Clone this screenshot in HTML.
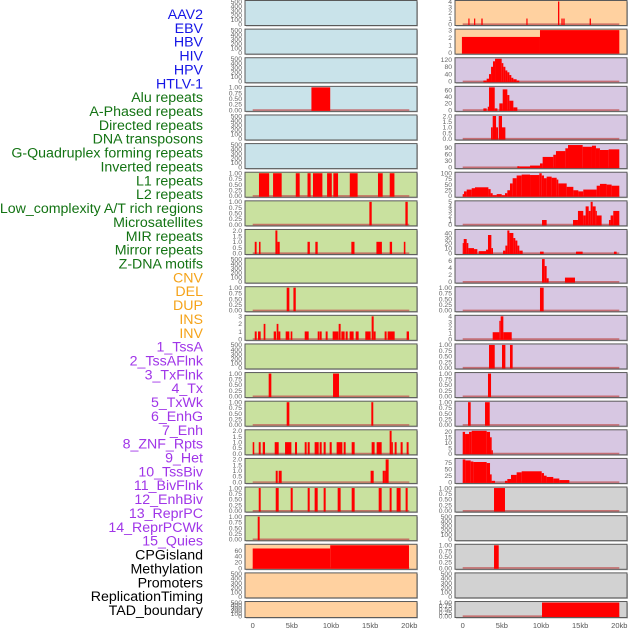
<!DOCTYPE html>
<html><head><meta charset="utf-8">
<style>
body{margin:0;background:#fff;width:630px;height:630px;overflow:hidden;font-family:"Liberation Sans",sans-serif}
svg{display:block}
</style></head>
<body>
<svg id="chart" width="630" height="630"></svg>
<script>
// ---- data ----
const labels = ["AAV2","EBV","HBV","HIV","HPV","HTLV-1","Alu repeats","A-Phased repeats","Directed repeats","DNA transposons","G-Quadruplex forming repeats","Inverted repeats","L1 repeats","L2 repeats","Low_complexity A/T rich regions","Microsatellites","MIR repeats","Mirror repeats","Z-DNA motifs","CNV","DEL","DUP","INS","INV","1_TssA","2_TssAFlnk","3_TxFlnk","4_Tx","5_TxWk","6_EnhG","7_Enh","8_ZNF_Rpts","9_Het","10_TssBiv","11_BivFlnk","12_EnhBiv","13_ReprPC","14_ReprPCWk","15_Quies","CPGisland","Methylation","Promoters","ReplicationTiming","TAD_boundary"];
const labelGroups = ["v","v","v","v","v","v","r","r","r","r","r","r","r","r","r","r","r","r","r","c","c","c","c","c","s","s","s","s","s","s","s","s","s","s","s","s","s","s","s","o","o","o","o","o"];
const xTicks = [0,5,10,15,20];
const xTickLabels = ["0","5kb","10kb","15kb","20kb"];
const ticksEmpty = [0,100,200,300,400,500];
const ticksBin = [0,0.25,0.5,0.75,1];
const ticks2 = [0,0.5,1,1.5,2];

const segL4 = [[7.5,9.9,1]];
const segL7 = [[0.8,2.1,1],[2.6,3.7,1],[5.5,6.0,1],[7.0,7.4,1],[7.7,8.9,1],[9.5,10.1,1],[10.3,10.9,1],[12.4,13.4,1],[16.0,16.6,1],[17.5,18.1,1]];
const segL8 = [[14.9,15.2,1],[19.5,19.8,1]];
const segL9 = [[0.26,0.5,1],[0.8,1.0,1],[2.9,3.15,2],[3.15,3.45,1],[7.0,7.3,1],[8.0,8.3,1],[12.6,13.0,1],[15.8,16.5,1],[17.5,17.8,1],[19.3,19.5,1]];
const segL11 = [[4.34,4.68,1],[5.2,5.5,1]];
const segL12 = [[0.26,0.51,1],[0.68,1.02,1],[1.4,1.62,2],[2.68,2.98,1],[3.06,3.28,2],[3.28,3.53,1],[4.21,4.68,1],[4.85,5.06,1],[6.64,7.15,1],[8.3,8.51,1],[8.55,8.81,1],[9.32,9.57,1],[10.21,10.94,1],[10.98,11.23,2],[11.32,11.74,1],[11.87,12.13,1],[12.38,12.89,1],[13.15,13.53,1],[14.38,15.06,1],[15.19,15.45,3],[15.45,15.7,1],[16.85,17.1,1],[17.23,18.13,1],[19.66,19.96,1]];
const segL14 = [[2.04,2.38,1],[10.26,11.02,1]];
const segL15 = [[4.34,4.68,1],[15.15,15.4,1]];
const segL16 = [[0,0.2,1],[0.77,1.02,1],[1.28,1.57,1],[2.81,3.32,1],[4.13,4.94,1],[5.4,5.66,1],[6.64,6.89,1],[7.02,7.28,1],[7.91,8.43,1],[8.55,8.81,1],[9.06,9.32,1],[9.83,10.09,1],[10.72,11.45,1],[11.62,11.87,1],[12.64,13.02,1],[15.19,15.57,1],[15.83,16.47,1],[17.49,17.74,2],[17.74,17.9,1],[18.13,18.38,1],[18.89,19.15,1],[19.66,19.91,1]];
const segL17 = [[2.94,3.19,1],[3.32,3.7,1],[15.06,15.45,1],[16.6,16.85,1],[16.85,16.98,1],[16.98,17.36,2]];
const segL18 = [[0.77,1.02,1],[2.94,3.32,1],[4.85,5.11,1],[7.02,7.28,1],[7.91,8.3,1],[9.06,9.32,1],[10.85,11.23,1],[12.64,13.02,1],[16.09,16.47,1],[17.49,17.74,1],[18.38,18.89,1],[19.53,19.79,1]];
const segL19 = [[0.64,0.89,1]];
const segL20 = [[0,9.9,67],[9.9,19.96,78]];

const segR1 = [[0.72,0.85,1],[1.45,1.57,1],[2.38,2.55,1],[8.13,8.26,1],[12.17,12.34,4],[12.6,12.77,1],[12.85,13.02,1],[16.21,16.38,1]];
const segR2 = [[-0.1,9.87,2.1],[9.87,20,3]];
const segR3 = [[2.64,3.06,5],[3.06,3.36,15],[3.36,3.62,40],[3.62,3.87,80],[3.87,4.13,110],[4.13,4.98,124],[4.98,5.19,100],[5.19,5.45,80],[5.45,5.7,60],[5.7,5.96,50],[5.96,6.21,35],[6.21,6.47,20],[6.47,6.89,12],[6.89,7.23,5]];
const segR4 = [[2.64,3.06,5],[3.2,3.36,10],[3.36,4.09,68],[4.09,4.43,5],[4.68,5.11,20],[5.11,5.7,62],[5.7,5.96,45],[5.96,6.47,28],[6.47,6.98,8]];
const segR5 = [[3.62,3.83,1],[3.83,4.26,2],[4.26,4.51,1],[4.6,5.02,2],[5.02,5.45,1]];
const segR6 = [[6.98,7.23,5],[7.23,8.6,4],[8.6,9.87,8],[9.87,10.21,18],[10.21,11.57,48],[11.57,11.91,58],[11.91,13.11,75],[13.11,13.45,88],[13.45,15.32,103],[15.32,16.51,95],[16.51,17.02,100],[17.02,17.53,88],[17.53,18.64,80],[18.64,20,83]];
const segR7 = [[0,0.17,8],[0.17,0.51,20],[0.51,1.15,28],[1.15,1.57,34],[1.57,3.28,38],[3.28,3.57,30],[3.57,3.83,12],[3.83,4.34,3],[4.34,4.98,8],[4.98,5.4,3],[5.4,5.7,12],[5.7,6.04,25],[6.04,6.38,55],[6.38,6.89,78],[6.89,7.53,90],[7.53,8.6,94],[8.6,9.79,92],[9.79,10.09,100],[10.09,10.38,90],[10.38,10.72,78],[10.72,11.36,85],[11.36,12,80],[12,12.21,72],[12.21,13.28,55],[13.28,14.13,40],[14.13,14.77,25],[14.77,15.4,20],[15.4,17.11,28],[17.11,17.53,45],[17.53,18.38,53],[18.38,19.02,50],[19.02,20,45]];
const segR8 = [[10.13,10.72,1],[14.09,14.72,1],[14.72,15.4,3],[15.4,15.7,2],[15.7,16.09,4],[16.09,16.34,3],[16.34,16.6,5],[16.6,16.98,4],[16.98,17.11,3],[17.11,17.74,2],[18.68,18.89,1],[18.89,19.23,2],[19.23,20,3]];
const segR9 = [[0,0.13,20],[0.13,0.51,28],[0.51,0.72,20],[0.72,1.45,10],[1.45,1.87,8],[2.04,2.98,4],[2.98,3.23,7],[3.23,3.66,36],[3.66,3.87,10],[5.15,5.45,5],[5.45,5.7,15],[5.7,5.96,45],[5.96,6.47,40],[6.47,6.72,30],[6.72,6.98,25],[6.98,7.23,15],[7.23,7.66,5],[9.87,10.34,3],[14.47,15.32,3],[19.32,19.66,3]];
const segR10 = [[10.13,10.47,6.5],[10.47,10.72,4.5],[10.72,10.98,1],[13.06,14.34,1.2]];
const segR11 = [[9.87,10.34,1]];
const segR12 = [[3.83,4.68,1.2],[4.68,4.85,3.2],[4.85,5.19,4],[5.19,6.26,1.2]];
const segR13 = [[3.36,4.09,1],[5.02,5.45,1],[6.04,6.38,1]];
const segR14 = [[3.23,3.62,1]];
const segR15 = [[0.68,1.02,1],[2.85,3.45,1]];
const segR16 = [[0,0.3,20],[0.3,0.81,18],[0.81,1.15,20],[1.15,3.06,21],[3.06,3.49,20],[3.49,3.7,15],[3.7,3.83,3]];
const segR17 = [[0,0.34,88],[0.34,1.02,84],[1.02,1.36,80],[1.36,3.06,78],[3.06,3.49,74],[3.49,3.7,30],[3.7,4.13,5],[5.4,5.7,5],[5.7,6.17,12],[6.17,6.89,28],[6.89,7.53,38],[7.53,10.09,42],[10.09,10.38,35],[10.38,10.72,25],[10.72,11.57,20],[11.57,12.34,14],[12.34,13.62,8]];
const segR18 = [[4.0,5.4,1]];
const segR20 = [[4.0,4.6,1]];
const segR22 = [[10.13,20,1]];

// panel definitions: [bg, ticks, ymax, segments]
const B="#c9e3ea",G="#c9e19f",O="#ffd1a0",P="#d7c7e2",Y="#d2d2d2";
const leftPanels = [
 [B,ticksEmpty,500,null],[B,ticksEmpty,500,null],[B,ticksEmpty,500,null],[B,ticksBin,1,segL4],
 [B,ticksEmpty,500,null],[B,ticksEmpty,500,null],[G,ticksBin,1,segL7],[G,ticksBin,1,segL8],
 [G,ticks2,2,segL9],[G,ticksEmpty,500,null],[G,ticksBin,1,segL11],[G,[0,1,2,3],3,segL12],
 [G,ticksEmpty,500,null],[G,ticksBin,1,segL14],[G,ticksBin,1,segL15],[G,ticks2,2,segL16],
 [G,ticks2,2,segL17],[G,ticksBin,1,segL18],[G,ticksBin,1,segL19],[O,[0,20,40,60],78,segL20],
 [O,ticksEmpty,500,null],[O,ticksEmpty,500,null]];
const rightPanels = [
 [O,[0,1,2,3,4],4,segR1],[O,[0,1,2,3],3,segR2],[P,[0,40,80,120],124,segR3],[P,[0,20,40,60],68,segR4],
 [P,ticks2,2,segR5],[P,[0,30,60,90],105,segR6],[P,[0,25,50,75,100],100,segR7],[P,[0,1,2,3,4,5],5,segR8],
 [P,[0,10,20,30,40],45,segR9],[P,[0,2,4,6],6.5,segR10],[P,ticksBin,1,segR11],[P,[0,1,2,3,4],4,segR12],
 [P,ticksBin,1,segR13],[P,ticksBin,1,segR14],[P,ticksBin,1,segR15],[P,[0,5,10,15,20],21,segR16],
 [P,[0,25,50,75],88,segR17],[Y,ticksBin,1,segR18],[Y,ticksEmpty,500,null],[Y,ticksBin,1,segR20],
 [Y,ticksEmpty,500,null],[Y,ticksBin,1,segR22]];

// ---- render ----
const NS="http://www.w3.org/2000/svg";
const svg=document.getElementById('chart');
function mk(tag,attrs,parent){const e=document.createElementNS(NS,tag);for(const k in attrs)e.setAttribute(k,attrs[k]);(parent||svg).appendChild(e);return e;}
const groupColor={v:"#1515e6",r:"#137313",c:"#f5a31a",s:"#a035e8",o:"#000"};

labels.forEach((t,i)=>{
  const e=mk('text',{x:203,y:19+i*13.86,'text-anchor':'end','font-size':14.2,fill:groupColor[labelGroups[i]]});
  e.textContent=t;
  
  
});

function fmt(ticks,v){
  const step=ticks[1]-ticks[0];
  if(step===0.25) return v.toFixed(2);
  if(step===0.5) return v.toFixed(1);
  return String(v);
}
function drawColumn(panels,px0,px1,x0,x20,col){
  const xs=k=>x0+(k/20)*(x20-x0);
  panels.forEach((p,i)=>{
    const [bg,ticks,ymax,segs]=p;
    const top=0.5+i*28.62, h=(i===21)?16:25;
    const g=mk('g',{});
    
    
    mk('rect',{x:px0+1,y:top+1,width:px1-px0,height:h,fill:'#bbb'},g);
    mk('rect',{x:px0,y:top,width:px1-px0,height:h,fill:bg,stroke:'#5a5a5a','stroke-width':1},g);
    const yb=top+h-1.3, yt=top+1;
    const ys=v=>yb-(v/ymax)*(yb-yt);
    ticks.forEach(t=>{
      const tx=mk('text',{x:px0-3,y:ys(t)+2.3,'text-anchor':'end','font-size':6.8,fill:'#666'},g);
      tx.textContent=fmt(ticks,t);
      
      
    });
    if(segs){
      mk('line',{x1:xs(0),x2:xs(20),y1:yb,y2:yb,stroke:'#c05050','stroke-opacity':0.75,'stroke-width':1.6},g);
      segs.forEach(s=>{
        const a=Math.max(px0+0.5,xs(s[0])), b=Math.min(px1-0.5,xs(s[1]));
        const yy=Math.max(top+0.5,ys(s[2]));
        const r=mk('rect',{x:a,y:yy,width:Math.max(1.2,b-a),height:top+h-0.5-yy,fill:'#ff0000'},g);
        
        
      });
    }
  });
  xTicks.forEach((t,j)=>{
    const e=mk('text',{x:xs(t),y:628,'text-anchor':'middle','font-size':7.5,fill:'#555'});
    e.textContent=xTickLabels[j];
    
    
  });
}
drawColumn(leftPanels,245,417,252.7,409.3,'left');
drawColumn(rightPanels,455,627,462.7,619.3,'right');
</script>
</body></html>
